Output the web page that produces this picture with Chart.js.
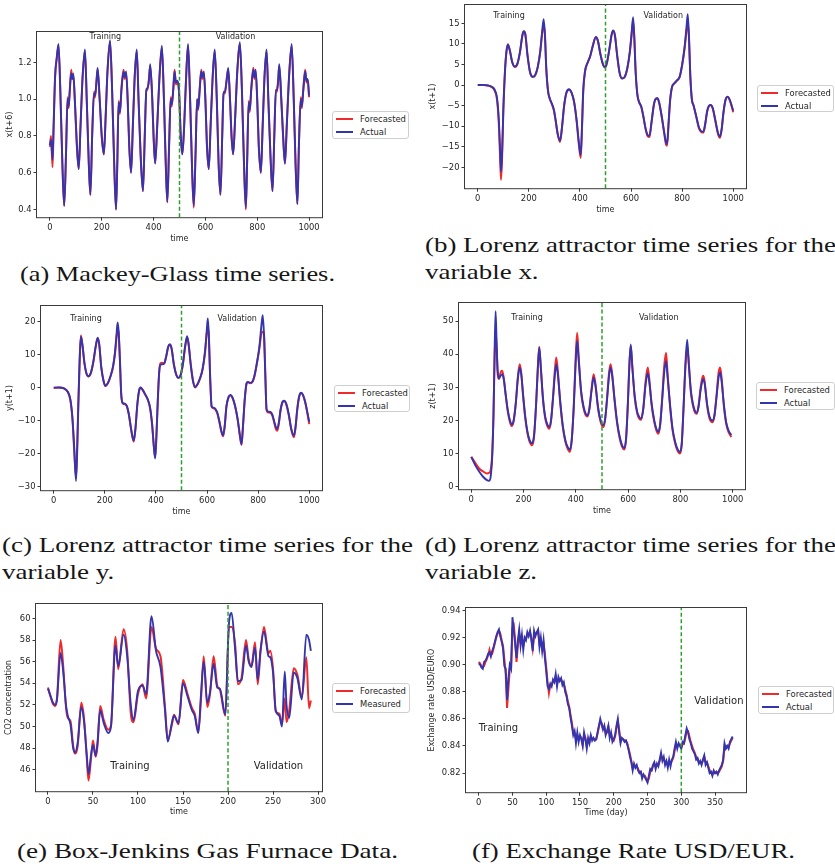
<!DOCTYPE html>
<html>
<head>
<meta charset="utf-8">
<script src="https://cdn.jsdelivr.net/npm/chart.js@4.4.0/dist/chart.umd.min.js"></script>
<style>
  body { margin: 0; width: 835px; height: 868px; overflow: hidden; position: relative; background: #fff; }
  canvas { position: absolute; }
  .legend { position: absolute; box-sizing: border-box; border: 1px solid #cfcfcf; border-radius: 3px; background: #fff;
            font: 8.4px "DejaVu Sans"; color: #262626; padding-top: 0.5px; }
  .legend div { display: flex; align-items: center; height: 13px; padding-left: 3px; white-space: nowrap; }
  .legend i { display: inline-block; width: 17px; height: 2px; margin-right: 7px; }
  .cap { position: absolute; font-family: "Liberation Serif"; font-size: 21px; line-height: 27px; white-space: nowrap;
         transform-origin: 0 0; color: #161616; }
</style>
</head>
<body>

<canvas id="mg"></canvas>
<canvas id="lx"></canvas>
<canvas id="ly"></canvas>
<canvas id="lz"></canvas>
<canvas id="bj"></canvas>
<canvas id="fx"></canvas>

<div class="cap" style="left:20px;top:261px" data-w="315"><span>(a) Mackey-Glass time series.</span></div>
<div class="cap" style="left:425px;top:232px" data-w="411"><span>(b) Lorenz attractor time series for the</span><br>variable x.</div>
<div class="cap" style="left:2px;top:532px" data-w="411"><span>(c) Lorenz attractor time series for the</span><br>variable y.</div>
<div class="cap" style="left:425px;top:532px" data-w="411"><span>(d) Lorenz attractor time series for the</span><br>variable z.</div>
<div class="cap" style="left:17px;top:838px" data-w="381"><span>(e) Box-Jenkins Gas Furnace Data.</span></div>
<div class="cap" style="left:472px;top:838px" data-w="323"><span>(f) Exchange Rate USD/EUR.</span></div>

<script>
// ---- Mackey-Glass x(t+6)
const mgTime = [0,4,10,14,20,26,33,40,48,55,
  62,68,72,76,82,86,90,96,104,111,
  118,126,135,142,150,156,163,170,174,180,
  184,192,200,208,215,222,232,240,248,255,
  260,265,270,276,284,288,294,300,306,313,
  320,327,335,342,350,359,366,372,376,382,
  387,395,400,406,414,422,432,440,447,453,
  460,466,470,476,481,486,492,498,505,511,
  518,525,533,540,548,555,562,568,572,578,
  584,588,594,600,606,613,620,628,636,644,
  651,658,665,670,675,682,688,695,701,707,
  715,723,733,741,749,756,761,767,771,777,
  785,789,794,800,806,814,821,828,836,843,
  851,859,866,872,876,881,885,893,900,907,
  914,922,933,941,948,955,961,968,972,978,
  985,990,995,1000];
const mgActual = [0.75,0.78,0.67,0.85,1.13,1.22,1.30,1.05,0.65,0.42,
  0.70,1.00,0.96,1.03,1.14,1.11,1.14,1.00,0.75,0.62,
  0.85,1.12,1.27,1.00,0.65,0.48,0.80,1.03,1.02,1.10,
  1.17,1.00,0.80,0.70,0.90,1.15,1.32,1.05,0.65,0.40,
  0.65,0.98,0.93,1.05,1.15,1.12,1.15,1.00,0.75,0.60,
  0.85,1.12,1.27,1.00,0.70,0.50,0.80,1.05,1.06,1.10,
  1.19,1.00,0.80,0.65,0.85,1.10,1.29,1.00,0.65,0.44,
  0.75,1.00,0.97,1.05,1.15,1.09,1.10,1.05,0.80,0.70,
  0.85,1.10,1.30,1.05,0.65,0.42,0.70,1.00,0.95,1.05,
  1.15,1.12,1.15,1.00,0.75,0.62,0.85,1.12,1.27,1.00,
  0.65,0.48,0.80,1.03,1.04,1.10,1.17,1.00,0.80,0.70,
  0.90,1.15,1.31,1.05,0.65,0.41,0.65,0.98,0.94,1.05,
  1.16,1.12,1.16,1.00,0.75,0.60,0.85,1.12,1.27,1.00,
  0.70,0.50,0.80,1.05,1.05,1.10,1.19,1.00,0.80,0.65,
  0.85,1.10,1.30,1.00,0.65,0.43,0.75,1.00,0.96,1.05,
  1.15,1.10,1.11,1.02];
const mgForecast = [0.74,0.80,0.63,0.84,1.12,1.22,1.29,1.04,0.64,0.42,
  0.71,1.01,0.95,1.04,1.16,1.11,1.13,0.99,0.74,0.62,
  0.86,1.12,1.26,0.99,0.64,0.48,0.81,1.04,1.01,1.11,
  1.16,0.99,0.79,0.70,0.91,1.15,1.31,1.04,0.64,0.40,
  0.66,0.99,0.92,1.06,1.16,1.11,1.14,0.99,0.74,0.60,
  0.86,1.12,1.26,0.99,0.69,0.50,0.81,1.05,1.05,1.11,
  1.18,0.99,0.79,0.65,0.86,1.10,1.28,0.99,0.64,0.44,
  0.76,1.01,0.96,1.06,1.16,1.08,1.09,1.04,0.79,0.70,
  0.86,1.10,1.29,1.04,0.64,0.41,0.71,1.00,0.94,1.06,
  1.16,1.11,1.14,0.99,0.74,0.62,0.86,1.12,1.26,0.99,
  0.64,0.48,0.81,1.04,1.03,1.11,1.16,0.99,0.79,0.70,
  0.91,1.15,1.30,1.04,0.64,0.40,0.66,0.99,0.93,1.06,
  1.17,1.11,1.15,0.99,0.74,0.60,0.86,1.12,1.26,0.99,
  0.69,0.50,0.81,1.05,1.04,1.11,1.18,0.99,0.79,0.65,
  0.86,1.10,1.29,0.99,0.64,0.43,0.76,1.01,0.95,1.06,
  1.16,1.09,1.10,1.01];
const mgTicksX = [0,200,400,600,800,1000];
const mgTicksY = [0.4,0.6,0.8,1.0,1.2];

// ---- Lorenz x(t+1)
const lxTime = [0,20,40,55,65,75,82,87,91,95,
  100,106,112,118,125,135,145,155,165,175,
  180,186,195,205,215,225,235,245,252,258,
  263,268,275,282,290,298,305,313,322,330,
  338,347,357,367,377,387,395,403,408,413,
  420,430,440,450,462,470,480,490,498,505,
  515,524,530,537,545,555,565,575,585,595,
  602,608,613,618,625,632,640,648,657,665,
  672,680,690,697,703,710,720,730,737,741,
  747,753,760,770,780,790,800,810,817,822,
  827,832,838,845,855,866,875,883,890,898,
  905,912,920,930,940,948,955,962,970,978,
  986,994,1000];
const lxActual = [0,0.05,-0.1,-0.4,-1.0,-3,-8,-15,-21,-17,
  -6,3,8,9.8,8.5,5.5,4.5,5.2,8,12.3,
  13.1,12.3,7,3,2,2.5,4.5,8.5,13,16,
  12,4,-1.5,-3.3,-4.5,-6,-8.5,-11.8,-13.5,-10,
  -5,-1.8,-1.0,-1.8,-4,-8.5,-13.5,-17,-10,-1,
  3.5,5.5,7,9.5,11.7,10.8,7.5,5,4.3,5.3,
  8.7,12.3,13.3,12,7.5,3,1.6,2,4,8,
  12.5,16.5,11,3,-2.5,-4.2,-5.2,-7.5,-10.5,-12.1,
  -12.3,-9,-4.5,-3.3,-3.2,-4.2,-7.5,-11.5,-14,-14.3,
  -9,-3.5,-0.5,0.5,1.2,2,5,9.5,14,17.2,
  11,2,-3.5,-5,-7.5,-10.3,-11.2,-11.3,-9.5,-6.3,
  -5,-4.8,-5.6,-8.5,-11.5,-12.5,-10.5,-6.5,-3.5,-2.8,
  -3.5,-5,-6.2];
const lxForecast = [0,0.05,-0.1,-0.5,-1.2,-3.4,-9,-17,-23,-18,
  -6.5,2.5,8,9.9,8.6,5.6,4.4,5.1,7.9,12.1,
  13,12.4,7.2,3.1,2,2.4,4.4,8.2,12.5,14.5,
  12.3,4.5,-1.3,-3.3,-4.6,-6.2,-8.8,-12,-13.8,-10.2,
  -5.1,-1.9,-1.1,-1.8,-4.1,-8.8,-14,-17.7,-10.5,-1.5,
  3.2,5.4,7,9.4,11.6,10.8,7.6,5.1,4.3,5.2,
  8.6,12.2,13.2,12.1,7.6,3.1,1.6,1.9,3.9,7.8,
  12,15.5,11.5,3.5,-2.3,-4.2,-5.3,-7.6,-10.7,-12.4,
  -12.6,-9.2,-4.6,-3.3,-3.2,-4.3,-7.7,-11.8,-14.4,-14.7,
  -9.5,-3.8,-0.6,0.4,1.1,1.9,4.8,9,13,15,
  11.5,2.5,-3.3,-5,-7.6,-10.5,-11.4,-11.5,-9.7,-6.4,
  -5.1,-4.9,-5.7,-8.7,-11.8,-12.8,-10.7,-6.6,-3.6,-2.9,
  -3.6,-5.2,-6.6];
const lxTicksX = [0,200,400,600,800,1000];
const lxTicksY = [-20,-15,-10,-5,0,5,10,15];

// ---- Lorenz y(t+1)
const lyTime = [0,20,40,55,65,73,80,87,91,96,
  101,106,112,120,128,135,145,155,165,172,
  178,186,195,202,212,222,232,240,246,250,
  254,259,264,270,278,286,294,303,313,320,
  327,334,340,348,358,368,377,385,392,397,
  402,407,413,418,425,432,440,448,455,462,
  470,480,488,496,505,514,522,528,536,545,
  553,562,572,582,592,599,603,607,612,618,
  625,632,640,648,656,663,669,676,684,692,
  700,710,720,728,735,741,748,755,760,768,
  776,785,795,805,813,818,823,828,833,840,
  848,856,864,870,875,881,888,895,902,910,
  920,930,940,946,953,960,968,976,985,993,
  1000];
const lyActual = [0,0.1,-0.2,-1.2,-3.5,-9,-18,-28.2,-20,-5,
  8,15.5,13,7.5,4.3,3.5,4.5,8,13,15.2,
  13,6,2,0.6,1.5,3.5,6.5,11,16.5,19.8,
  17,8,-2,-4.6,-4.8,-5.5,-8,-12.5,-16,-12,
  -5,-0.8,0.1,-0.6,-2,-3.5,-6,-11,-18,-21.4,
  -14,-4,5,7,7.1,7.3,9.5,12.5,13.2,11.5,
  7,3.8,3,3.8,7,12.5,15.6,13,7,2,
  0.2,1,2.8,5.5,11,17.5,21,16,3,-5.6,
  -6,-6.3,-7.5,-10,-13,-14.4,-11.5,-5.5,-2.8,-2.2,
  -3,-5.5,-9.5,-14,-17.1,-11,-3,1.5,1.8,1.5,
  1.7,3.5,7.5,12.5,19,22,16,4,-6.5,-7.2,
  -7.3,-8.2,-10.5,-12,-12.4,-10.5,-6.5,-4.3,-3.9,-4.8,
  -8,-12.5,-14.5,-12,-6.5,-2.8,-1.5,-2.2,-4.5,-7.5,
  -10.3];
const lyForecast = [0,0.1,-0.2,-1.3,-3.8,-9.5,-19,-27,-21,-6,
  7,15.8,13.2,7.6,4.3,3.4,4.4,7.8,12.8,15,
  13.2,6.3,2.1,0.5,1.4,3.4,6.3,10.5,15.5,17.5,
  16.5,8.5,-1.8,-4.7,-5,-5.6,-8.2,-12.8,-16.3,-12.3,
  -5.3,-1,0,-0.7,-2.1,-3.6,-6.2,-11.3,-18,-21,
  -14.5,-4.5,5.2,7.5,7.6,7.4,9.4,12.3,13,11.6,
  7.2,3.9,3,3.7,6.8,12.2,15.2,13.2,7.3,2.2,
  0.1,0.9,2.7,5.3,10.5,16.5,18,16,4,-5.8,
  -6.2,-6.5,-7.7,-10.3,-13.3,-14.7,-12,-5.8,-2.9,-2.3,
  -3.1,-5.7,-9.8,-14.3,-17.3,-11.5,-3.3,1.3,1.7,1.4,
  1.6,3.3,7.2,12,16.5,17,16.2,4.5,-6.8,-7.5,
  -7.6,-8.5,-10.9,-12.6,-13,-10.9,-6.8,-4.5,-4,-5,
  -8.3,-12.8,-15,-12.4,-6.8,-3,-1.6,-2.3,-4.7,-7.9,
  -11];
const lyTicksX = [0,200,400,600,800,1000];
const lyTicksY = [-30,-20,-10,0,10,20];

// ---- Lorenz z(t+1)
const lzTime = [0,15,30,45,60,68,74,80,85,89,
  93,97,101,106,112,118,124,132,140,148,
  155,162,170,178,185,191,198,206,214,222,
  232,240,248,254,260,266,274,282,290,298,
  305,312,320,325,331,340,350,360,370,377,
  384,392,399,405,411,420,430,438,445,452,
  460,468,475,485,495,505,512,520,527,533,
  539,548,558,568,577,585,592,599,605,610,
  616,625,635,643,650,658,667,675,681,690,
  700,708,715,722,730,738,745,751,760,770,
  780,790,798,805,812,819,826,832,840,848,
  855,862,869,877,884,888,893,902,912,923,
  930,938,946,952,958,966,975,985,995];
const lzActual = [9,6.5,4.6,3.0,2.0,1.8,3,9,22,40,
  53,43,35,32.8,33.5,34,32.5,27.5,23,20,
  18.8,20,25,32.5,36,34,28,21.5,17,14.3,
  13.1,15.5,25,35,42,36,27,21.5,19,18.1,
  20,26,34,37,34,26,18.5,14,11.8,11.2,
  14,24,37,44,38,29,24,22,21.6,23.5,
  29,33,30.5,24,20,18.6,20.5,27,33.5,36,
  33.5,26.5,19.5,15,12.5,11.7,14.5,25,37,43,
  36,27.5,22.5,21,20.6,23.5,31,34.4,31.5,25,
  20,17.5,16.6,18.5,26,34.5,38,33,25,17.5,
  13.5,11.2,10.5,13,24,37,44.4,37,29,25,
  23,22.3,24,29,32,32.5,31,25,21,20,
  21.5,27,33,34.6,31.5,25,19.5,16.8,15.6];
const lzForecast = [9,7.2,5.5,4.6,4.0,4.2,5,10,22,38,
  47,42,34,32.5,34.5,35,33,27.5,22.5,19.5,
  18.3,19.8,25,33,37,34.5,27.5,21,16.5,13.8,
  12.5,15,25,35,42.3,36,26.5,21,18.5,17.5,
  19.8,26.5,35.5,39,35,25.5,18,13.5,11.2,10.5,
  13.8,24.5,38.5,46.5,39,28.5,23.5,21.5,21.2,23.8,
  29.5,34,31,23.5,19.5,18,20.3,27.5,34.5,37,
  34,26,19,14.5,12,11.2,14.2,25.5,37.5,42.5,
  36.5,27,22,20.5,20.2,23.8,32,36,32.5,24.5,
  19.5,17,16,18.3,26.5,36.5,40.5,34,24.5,17,
  13,10.7,10,12.8,24,36,42,37.5,28.5,24.5,
  22.5,22,24.3,29.8,33,33.5,31.5,24.5,20.5,19.5,
  21.3,27.5,34.5,36,32.5,24.5,19,16.3,15];
const lzTicksX = [0,200,400,600,800,1000];
const lzTicksY = [0,10,20,30,40,50];

// ---- Box-Jenkins gas furnace, CO2 concentration
const bjTime = [0,3,5,8,10,14,17,20,22,25,
  28,30,33,37,40,43,45,48,50,53,
  55,58,62,67,70,75,78,84,88,92,
  95,100,105,109,115,120,125,130,133,138,
  140,145,150,155,160,163,167,170,173,177,
  180,184,188,191,197,201,204,208,211,215,
  220,223,226,230,233,236,240,245,247,250,
  253,257,260,263,265,268,273,277,282,287,
  290,292];
const bjMeasured = [53.5,52.8,52.3,52.0,52.5,56.8,55.0,52.0,51.0,50.2,
  48.0,47.6,48.5,51.8,50.5,47.5,45.6,47.5,48.3,47.3,
  48.5,51.5,50.3,49.4,50.0,57.5,55.6,58.5,56.5,52.0,
  50.6,53.3,53.8,53.0,60.2,57.0,55.5,51.5,48.6,50.5,
  51.0,50.3,54.0,52.8,51.5,51.0,49.4,53.0,56.0,52.2,
  53.2,55.8,53.6,53.5,51.1,59.5,60.5,57.0,54.2,54.3,
  57.5,56.0,55.5,57.3,54.3,57.0,58.8,56.5,56.4,55.0,
  51.5,51.0,50.0,55.1,52.0,50.8,55.0,54.5,52.5,58.5,
  58.0,57.0];
const bjForecast = [53.6,52.7,52.2,51.9,52.6,58.0,55.5,51.8,50.8,50.5,
  48.2,47.5,48.2,52.2,50.8,47.2,45.0,47.2,48.7,47.2,
  48.2,51.9,50.6,49.7,50.1,58.3,55.3,59.0,57.0,51.2,
  50.4,53.0,53.9,52.6,59.2,57.2,56.5,51.8,48.8,50.3,
  51.1,50.2,54.3,53.0,51.7,51.2,49.5,52.5,56.5,51.8,
  53.0,56.5,53.8,53.4,51.0,59.2,59.2,57.5,53.9,54.5,
  58.0,56.2,55.6,57.8,53.9,56.8,59.2,56.8,57.0,55.3,
  51.4,51.2,50.2,52.6,50.4,51.5,55.4,54.8,52.7,56.4,
  51.7,52.4];
const bjTicksX = [0,50,100,150,200,250,300];
const bjTicksY = [46,48,50,52,54,56,58,60];

// ---- USD/EUR exchange rate, every second day
const fxDay = [0,2,4,6,8,10,12,14,16,18,
  20,22,24,26,28,30,32,34,36,38,
  40,42,44,46,48,50,52,54,56,58,
  60,62,64,66,68,70,72,74,76,78,
  80,82,84,86,88,90,92,94,96,98,
  100,102,104,106,108,110,112,114,116,118,
  120,122,124,126,128,130,132,134,136,138,
  140,142,144,146,148,150,152,154,156,158,
  160,162,164,166,168,170,172,174,176,178,
  180,182,184,186,188,190,192,194,196,198,
  200,202,204,206,208,210,212,214,216,218,
  220,222,224,226,228,230,232,234,236,238,
  240,242,244,246,248,250,252,254,256,258,
  260,262,264,266,268,270,272,274,276,278,
  280,282,284,286,288,290,292,294,296,298,
  300,302,304,306,308,310,312,314,316,318,
  320,322,324,326,328,330,332,334,336,338,
  340,342,344,346,348,350,352,354,356,358,
  360,362,364,366,368,370,372,374,376];
const fxActual = [0.901,0.900,0.898,0.897,0.902,0.903,0.905,0.908,0.909,0.906,
  0.910,0.913,0.917,0.921,0.924,0.926,0.921,0.917,0.912,0.899,
  0.897,0.874,0.890,0.900,0.897,0.935,0.925,0.915,0.905,0.918,
  0.926,0.914,0.922,0.911,0.920,0.918,0.924,0.921,0.925,0.918,
  0.910,0.925,0.921,0.924,0.926,0.913,0.920,0.910,0.918,0.905,
  0.895,0.884,0.882,0.886,0.884,0.889,0.887,0.893,0.884,0.891,
  0.888,0.890,0.885,0.887,0.880,0.877,0.871,0.868,0.861,0.855,
  0.848,0.851,0.842,0.850,0.843,0.848,0.845,0.840,0.850,0.845,
  0.838,0.846,0.842,0.848,0.844,0.846,0.844,0.845,0.850,0.855,
  0.860,0.856,0.852,0.855,0.848,0.851,0.855,0.846,0.850,0.843,
  0.845,0.848,0.855,0.860,0.850,0.842,0.846,0.845,0.843,0.844,
  0.841,0.837,0.832,0.828,0.822,0.827,0.824,0.826,0.822,0.820,
  0.821,0.816,0.819,0.817,0.815,0.813,0.818,0.823,0.822,0.826,
  0.828,0.823,0.827,0.825,0.830,0.835,0.829,0.832,0.826,0.829,
  0.824,0.830,0.825,0.830,0.832,0.838,0.843,0.838,0.842,0.840,
  0.838,0.843,0.842,0.848,0.853,0.850,0.845,0.842,0.838,0.836,
  0.834,0.830,0.831,0.827,0.829,0.826,0.830,0.833,0.826,0.828,
  0.824,0.820,0.821,0.818,0.822,0.820,0.821,0.819,0.822,0.824,
  0.826,0.830,0.842,0.838,0.840,0.838,0.843,0.845,0.847];
const fxForecast = [0.902,0.901,0.899,0.898,0.899,0.902,0.904,0.907,0.911,0.907,
  0.908,0.912,0.916,0.920,0.923,0.925,0.923,0.918,0.914,0.904,
  0.893,0.868,0.882,0.897,0.898,0.927,0.929,0.918,0.902,0.914,
  0.923,0.917,0.919,0.914,0.918,0.919,0.922,0.922,0.924,0.920,
  0.912,0.921,0.923,0.923,0.925,0.916,0.918,0.912,0.916,0.908,
  0.898,0.887,0.879,0.885,0.885,0.888,0.888,0.891,0.886,0.889,
  0.889,0.889,0.887,0.886,0.882,0.878,0.873,0.869,0.863,0.857,
  0.850,0.850,0.845,0.848,0.845,0.847,0.846,0.841,0.848,0.846,
  0.840,0.844,0.843,0.847,0.845,0.845,0.845,0.845,0.849,0.854,
  0.858,0.857,0.853,0.854,0.850,0.850,0.854,0.848,0.849,0.845,
  0.844,0.847,0.853,0.858,0.852,0.844,0.845,0.845,0.844,0.844,
  0.842,0.838,0.834,0.829,0.824,0.826,0.825,0.825,0.823,0.821,
  0.821,0.818,0.818,0.818,0.816,0.814,0.816,0.821,0.822,0.825,
  0.827,0.825,0.826,0.826,0.829,0.833,0.831,0.831,0.828,0.828,
  0.826,0.828,0.827,0.829,0.831,0.836,0.841,0.840,0.841,0.841,
  0.839,0.841,0.842,0.846,0.851,0.851,0.847,0.843,0.840,0.837,
  0.835,0.832,0.831,0.828,0.828,0.827,0.829,0.832,0.828,0.828,
  0.825,0.822,0.821,0.819,0.821,0.820,0.821,0.820,0.821,0.823,
  0.825,0.829,0.840,0.839,0.840,0.839,0.842,0.844,0.846];
const fxTicksX = [0,50,100,150,200,250,300,350];
const fxTicksY = [0.82,0.84,0.86,0.88,0.90,0.92,0.94];

const RED = '#f02a2a', BLUE = '#3434ae', GREEN = '#2ca02c', INK = '#262626';
Chart.defaults.font.family = '"DejaVu Sans"';

function pts(xs, ys) {
  return xs.map((x, i) => ({ x: x, y: ys[i] }));
}

function fmt(v, d) {
  return (v < 0 ? '\u2212' : '') + Math.abs(v).toFixed(d);
}

// box around the axes, like the matplotlib spines
const frame = {
  id: 'frame',
  afterDraw(chart) {
    const a = chart.chartArea, c = chart.ctx;
    c.save();
    c.strokeStyle = '#3a3a3a';
    c.lineWidth = 1;
    c.strokeRect(a.left - 0.5, a.top - 0.5, a.right - a.left + 1, a.bottom - a.top + 1);
    c.restore();
  }
};

// "Training" / "Validation" notes placed in data coordinates
const phaseText = {
  id: 'phaseText',
  afterDatasetsDraw(chart, args, opts) {
    const c = chart.ctx, sx = chart.scales.x, sy = chart.scales.y;
    c.save();
    c.font = opts.size + 'px "DejaVu Sans"';
    c.fillStyle = INK;
    c.textBaseline = 'middle';
    opts.items.forEach(it => {
      c.textAlign = it.align || 'center';
      c.fillText(it.text, sx.getPixelForValue(it.x), sy.getPixelForValue(it.y));
    });
    c.restore();
  }
};

function panel(p) {
  const [L, T, R, B] = p.box;
  const left = Math.round(p.yTitleX - 4.8), top = T - 12;
  const yw = L - left, xh = p.xTitleY - B + 4.8;
  const cv = document.getElementById(p.id);
  cv.width = yw + (R - L) + 12;
  cv.height = Math.round(12 + (B - T) + xh);
  cv.style.left = left + 'px';
  cv.style.top = top + 'px';

  const tickFont = { size: 8.4 };
  new Chart(cv, {
    type: 'line',
    data: {
      datasets: [
        { data: [{ x: p.split, y: p.y[0] }, { x: p.split, y: p.y[1] }], borderColor: GREEN,
          borderWidth: 1.5, borderDash: [4, 2.5], order: 0 },
        { data: pts(p.t, p.actual), borderColor: BLUE, borderWidth: 1.9, order: 1 },
        { data: pts(p.t, p.forecast), borderColor: RED, borderWidth: 2, order: 2 }
      ]
    },
    options: {
      responsive: false,
      animation: false,
      events: [],
      layout: { padding: { top: 12, right: 12, left: 0, bottom: 0 } },
      elements: {
        point: { radius: 0 },
        line: { tension: 0, cubicInterpolationMode: p.smooth ? 'monotone' : 'default' }
      },
      plugins: {
        legend: { display: false },
        tooltip: { enabled: false },
        phaseText: { size: p.noteSize, items: p.notes }
      },
      scales: {
        x: {
          type: 'linear', min: p.x[0], max: p.x[1], bounds: 'data',
          afterBuildTicks: s => { s.ticks = p.xTicks.map(v => ({ value: v })); },
          afterFit: s => { s.height = xh; },
          ticks: { autoSkip: false, maxRotation: 0, padding: 2, color: INK, font: tickFont,
                   callback: v => fmt(v, 0) },
          grid: { drawOnChartArea: false, tickLength: 3.5, tickColor: '#3a3a3a' },
          border: { display: false },
          title: { display: true, text: p.xTitle, padding: 0, color: INK, font: { size: 8 } }
        },
        y: {
          type: 'linear', min: p.y[0], max: p.y[1], bounds: 'data',
          afterBuildTicks: s => { s.ticks = p.yTicks.map(v => ({ value: v })); },
          afterFit: s => { s.width = yw; },
          ticks: { autoSkip: false, padding: 2, color: INK, font: tickFont,
                   callback: v => fmt(v, p.yDec) },
          grid: { drawOnChartArea: false, tickLength: 3.5, tickColor: '#3a3a3a' },
          border: { display: false },
          title: { display: true, text: p.yTitle, padding: 0, color: INK, font: { size: 8 } }
        }
      }
    },
    plugins: [frame, phaseText]
  });

  const lg = document.createElement('div');
  lg.className = 'legend';
  lg.style.cssText = `left:${p.legend[0]}px;top:${p.legend[1]}px;width:${p.legend[2]}px;height:${p.legend[3]}px`;
  lg.innerHTML = `<div><i style="background:${RED}"></i>${p.names[0]}</div>` +
                 `<div><i style="background:${BLUE}"></i>${p.names[1]}</div>`;
  document.body.appendChild(lg);
}

panel({ id: 'mg', box: [37, 32, 322, 217], yTitleX: 10, xTitleY: 239,
  x: [-50, 1050], y: [0.358, 1.365], xTicks: mgTicksX, yTicks: mgTicksY, yDec: 1,
  t: mgTime, actual: mgActual, forecast: mgForecast, split: 500, smooth: true,
  xTitle: 'time', yTitle: 'x(t+6)', noteSize: 8,
  notes: [{ text: 'Training', x: 214, y: 1.338 }, { text: 'Validation', x: 716, y: 1.338 }],
  legend: [332, 111, 77, 28], names: ['Forecasted', 'Actual'] });

panel({ id: 'lx', box: [465, 5, 746, 188], yTitleX: 433, xTitleY: 210,
  x: [-50, 1050], y: [-25.03, 19.45], xTicks: lxTicksX, yTicks: lxTicksY, yDec: 0,
  t: lxTime, actual: lxActual, forecast: lxForecast, split: 500, smooth: true,
  xTitle: 'time', yTitle: 'x(t+1)', noteSize: 8,
  notes: [{ text: 'Training', x: 122, y: 16.8 }, { text: 'Validation', x: 726, y: 16.8 }],
  legend: [757, 85, 77, 27], names: ['Forecasted', 'Actual'] });

panel({ id: 'ly', box: [41, 306, 322, 490], yTitleX: 10, xTitleY: 512,
  x: [-50, 1050], y: [-31.0, 24.76], xTicks: lyTicksX, yTicks: lyTicksY, yDec: 0,
  t: lyTime, actual: lyActual, forecast: lyForecast, split: 500, smooth: true,
  xTitle: 'time', yTitle: 'y(t+1)', noteSize: 8,
  notes: [{ text: 'Training', x: 126, y: 20.8 }, { text: 'Validation', x: 718, y: 20.8 }],
  legend: [334, 385, 76, 27], names: ['Forecasted', 'Actual'] });

panel({ id: 'lz', box: [459, 303, 745, 489], yTitleX: 433, xTitleY: 511,
  x: [-47, 1047], y: [-0.76, 55.5], xTicks: lzTicksX, yTicks: lzTicksY, yDec: 0,
  t: lzTime, actual: lzActual, forecast: lzForecast, split: 500, smooth: true,
  xTitle: 'time', yTitle: 'z(t+1)', noteSize: 8,
  notes: [{ text: 'Training', x: 213, y: 50.9 }, { text: 'Validation', x: 717, y: 50.9 }],
  legend: [756, 382, 79, 28], names: ['Forecasted', 'Actual'] });

panel({ id: 'bj', box: [36, 604, 322, 791], yTitleX: 9, xTitleY: 812,
  x: [-13.3, 304.4], y: [44.02, 61.33], xTicks: bjTicksX, yTicks: bjTicksY, yDec: 0,
  t: bjTime, actual: bjMeasured, forecast: bjForecast, split: 200, smooth: true,
  xTitle: 'time', yTitle: 'CO2 concentration', noteSize: 10,
  notes: [{ text: 'Training', x: 91, y: 46.34 }, { text: 'Validation', x: 256, y: 46.34 }],
  legend: [332, 683, 78, 30], names: ['Forecasted', 'Measured'] });

panel({ id: 'fx', box: [466, 608, 746, 792], yTitleX: 432, xTitleY: 813,
  x: [-18.8, 395.8], y: [0.8059, 0.9418], xTicks: fxTicksX, yTicks: fxTicksY, yDec: 2,
  t: fxDay, actual: fxActual, forecast: fxForecast, split: 300, smooth: false,
  xTitle: 'Time (day)', yTitle: 'Exchange rate USD/EURO', noteSize: 10,
  notes: [{ text: 'Training', x: 0, y: 0.8529, align: 'left' }, { text: 'Validation', x: 319, y: 0.8726, align: 'left' }],
  legend: [758, 686, 76, 28], names: ['Forecasted', 'Actual'] });

// stretch each caption to its measured line width
document.querySelectorAll('.cap').forEach(c => {
  const w = c.querySelector('span').getBoundingClientRect().width;
  c.style.transform = `scaleX(${c.dataset.w / w})`;
});
</script>
</body>
</html>
